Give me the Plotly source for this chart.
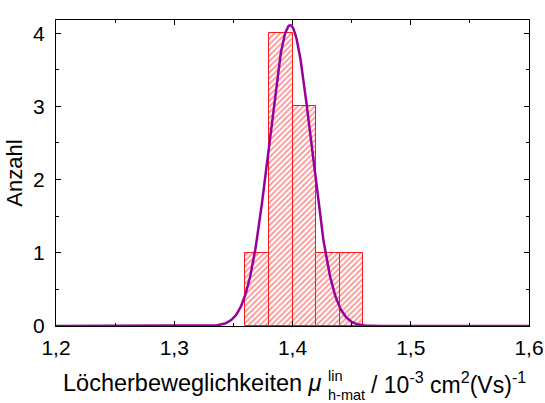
import numpy as np
import plotly.graph_objects as go

# Histogram of hole mobilities (bin edges in 10^-3 cm^2/(Vs))
bin_left = [1.36, 1.38, 1.40, 1.42, 1.44]
bin_width = 0.02
counts = [1, 4, 3, 1, 1]

# Gaussian fit parameters
fit_center = 1.398
fit_sigma = 0.0178
fit_amplitude = 4.11

x_ticks = [1.2, 1.3, 1.4, 1.5, 1.6]
y_ticks = [0, 1, 2, 3, 4]

FONT = "Liberation Sans, Arial, sans-serif"
RED = "#ff1a1a"
PURPLE = "#990099"

bin_centers = [b + bin_width / 2 for b in bin_left]
xf = np.linspace(1.2, 1.6, 801)
yf = fit_amplitude * np.exp(-0.5 * ((xf - fit_center) / fit_sigma) ** 2)

fig = go.Figure()
fig.add_trace(go.Bar(
    x=bin_centers, y=counts, width=bin_width,
    marker=dict(
        color="white",
        line=dict(color=RED, width=1),
        pattern=dict(shape="/", fgcolor=RED, bgcolor="white", size=4, solidity=0.4),
    ),
    showlegend=False,
))
fig.add_trace(go.Scatter(
    x=xf, y=yf, mode="lines",
    line=dict(color=PURPLE, width=2.5),
    showlegend=False,
))

L, R, T, B = 56, 16, 20, 77
W, H = 545, 403
pw, ph = W - L - R, H - T - B

axis_common = dict(
    automargin=False,
    showline=True, linecolor="black", linewidth=1, mirror="allticks",
    ticks="inside", ticklen=5, tickwidth=1, tickcolor="black",
    showgrid=False, zeroline=False,
    tickfont=dict(family=FONT, size=21, color="black"),
)

fig.update_layout(
    width=W, height=H,
    margin=dict(l=L, r=R, t=T, b=B),
    paper_bgcolor="white", plot_bgcolor="white",
    separators=",.",
    bargap=0,
    font=dict(family=FONT, color="black"),
    xaxis=dict(
        range=[1.2, 1.6], tickvals=x_ticks, tickformat=".1f",
        ticklabelstandoff=3,
        minor=dict(dtick=0.05, ticks="inside", ticklen=3, tickcolor="black"),
        **axis_common,
    ),
    yaxis=dict(
        range=[0, 4.18], tickvals=y_ticks,
        ticklabelstandoff=6,
        minor=dict(dtick=0.5, ticks="inside", ticklen=3, tickcolor="black"),
        title=dict(text="Anzahl", font=dict(family=FONT, size=22), standoff=4),
        **axis_common,
    ),
)

def px_x(p):
    return (p - L) / pw

def px_y(p):
    return (H - B - p) / ph

title_font = dict(family=FONT, size=23.5, color="black")
small_font = dict(family=FONT, size=14.5, color="black")
fig.add_annotation(text="Löcherbeweglichkeiten <i>μ</i>", xref="paper", yref="paper",
                   x=px_x(324), y=px_y(383), xanchor="right", yanchor="middle",
                   showarrow=False, font=title_font)
fig.add_annotation(text="lin", xref="paper", yref="paper",
                   x=px_x(326), y=px_y(376), xanchor="left", yanchor="middle",
                   showarrow=False, font=small_font)
fig.add_annotation(text="h-mat", xref="paper", yref="paper",
                   x=px_x(326), y=px_y(395), xanchor="left", yanchor="middle",
                   showarrow=False, font=small_font)
fig.add_annotation(text="/ 10<sup>-3</sup> cm<sup>2</sup>(Vs)<sup>-1</sup>", xref="paper", yref="paper",
                   x=px_x(369), y=px_y(383), xanchor="left", yanchor="middle",
                   showarrow=False, font=dict(family=FONT, size=23, color="black"))

fig.write_html("out.html")
